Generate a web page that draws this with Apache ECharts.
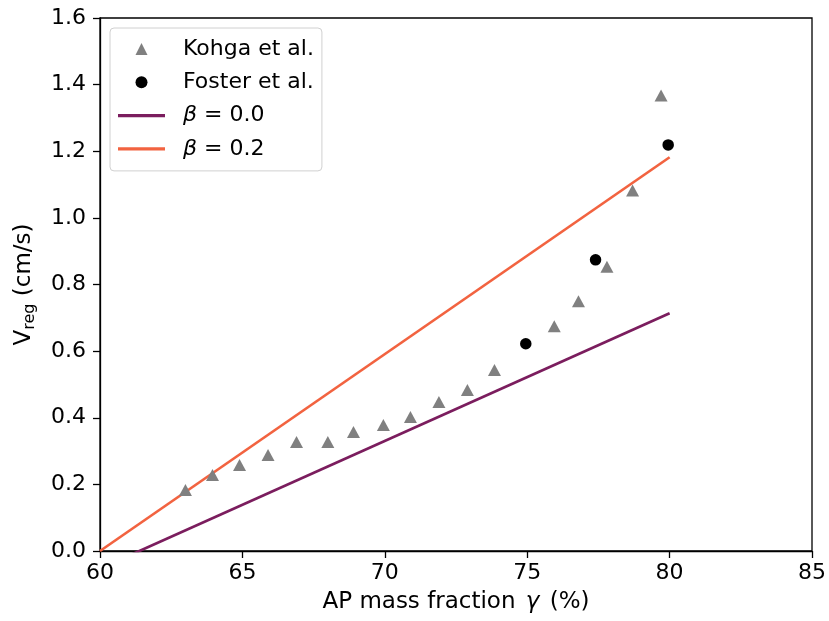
<!DOCTYPE html>
<html><head><meta charset="utf-8">
<script src="https://cdn.jsdelivr.net/npm/echarts@6/dist/echarts.min.js"></script>
<style>html,body{margin:0;padding:0;background:#fff}#c{width:829px;height:621px}</style>
</head><body><div id="c"></div>
<script>
const kohgaX = [63.0, 63.95, 64.9, 65.9, 66.9, 68.0, 68.9, 69.95, 70.9, 71.9, 72.9, 73.85, 75.95, 76.8, 77.8, 78.7, 79.7];
const kohgaY = [0.183, 0.228, 0.258, 0.288, 0.327, 0.327, 0.357, 0.378, 0.402, 0.447, 0.483, 0.543, 0.675, 0.75, 0.853, 1.082, 1.367];
const fosterX = [74.95, 77.4, 79.95];
const fosterY = [0.622, 0.874, 1.219];
const beta0X = [60, 80];
const beta0Y = [-0.053, 0.714];
const beta2X = [60, 80];
const beta2Y = [0.0, 1.182];
const xTicks = [60, 65, 70, 75, 80, 85];
const yTicks = [0.0, 0.2, 0.4, 0.6, 0.8, 1.0, 1.2, 1.4, 1.6];

const zip = (a, b) => a.map((v, i) => [v, b[i]]);
const FONT = 'DejaVu Sans';
const FS = 22;
const chart = echarts.init(document.getElementById('c'), null, {renderer: 'canvas'});
chart.setOption({
  animation: false,
  backgroundColor: '#fff',
  textStyle: {fontFamily: FONT},
  grid: {left: 100, right: 15, top: 18, bottom: 70, show: true, borderColor: '#000', borderWidth: 1.3, backgroundColor: 'transparent'},
  xAxis: {
    type: 'value', min: xTicks[0], max: xTicks[xTicks.length - 1], interval: 5,
    name: 'AP mass fraction {i|γ} (%)', nameLocation: 'middle', nameGap: 40,
    nameTextStyle: {fontSize: 23, color: '#000', fontFamily: FONT, rich: {i: {fontSize: 23, fontStyle: 'italic', fontFamily: FONT, padding: [0, 3, 0, 3]}}},
    axisLine: {show: true, lineStyle: {color: '#000', width: 1.3}},
    axisTick: {show: true, length: 7, lineStyle: {color: '#000', width: 1.3}},
    axisLabel: {fontSize: FS, color: '#000', margin: 11, fontFamily: FONT},
    splitLine: {show: false}
  },
  yAxis: {
    type: 'value', min: yTicks[0], max: yTicks[yTicks.length - 1], interval: 0.2,
    name: 'V{sub|reg} (cm/s)', nameLocation: 'middle', nameGap: 62, nameRotate: 90,
    nameTextStyle: {fontSize: 23, color: '#000', fontFamily: FONT, rich: {sub: {fontSize: 16, padding: [12, 0, 0, 0], fontFamily: FONT}}},
    axisLine: {show: true, lineStyle: {color: '#000', width: 1.3}},
    axisTick: {show: true, length: 7, lineStyle: {color: '#000', width: 1.3}},
    axisLabel: {fontSize: FS, color: '#000', margin: 14, fontFamily: FONT, formatter: v => v.toFixed(1)},
    splitLine: {show: false}
  },
  legend: {
    orient: 'vertical', left: 110, top: 28,
    padding: [9, 8, 10, 8],
    itemWidth: 47, itemHeight: 12, itemGap: 9.3,
    borderColor: '#d0d0d0', borderWidth: 1, borderRadius: 4,
    backgroundColor: 'rgba(255,255,255,0.85)',
    textStyle: {fontSize: FS, lineHeight: 24, color: '#000', fontFamily: FONT, padding: [0, 0, 0, 13],
      rich: {i: {fontSize: FS, lineHeight: 24, fontStyle: 'italic', fontFamily: FONT}}},
    formatter: n => n.replace('β', '{i|β}'),
    data: [
      {name: 'Kohga et al.', icon: 'path://M0,-1L1,1L-1,1Z'},
      {name: 'Foster et al.', icon: 'circle'},
      {name: 'β = 0.0', icon: 'path://M0,0H40V2.7H0Z'},
      {name: 'β = 0.2', icon: 'path://M0,0H40V2.7H0Z'}
    ]
  },
  series: [
    {name: 'β = 0.0', type: 'line', data: zip(beta0X, beta0Y), symbol: 'none', clip: true,
      lineStyle: {color: '#7b1d5e', width: 2.7}, itemStyle: {color: '#7b1d5e'}, z: 2},
    {name: 'β = 0.2', type: 'line', data: zip(beta2X, beta2Y), symbol: 'none', clip: true,
      lineStyle: {color: '#f26340', width: 2.7}, itemStyle: {color: '#f26340'}, z: 2},
    {name: 'Kohga et al.', type: 'scatter', data: zip(kohgaX, kohgaY), symbol: 'triangle', symbolSize: [13, 12],
      itemStyle: {color: '#808080', opacity: 1}, z: 3},
    {name: 'Foster et al.', type: 'scatter', data: zip(fosterX, fosterY), symbol: 'circle', symbolSize: 11.5,
      itemStyle: {color: '#000', opacity: 1}, z: 3}
  ]
});
</script></body></html>
